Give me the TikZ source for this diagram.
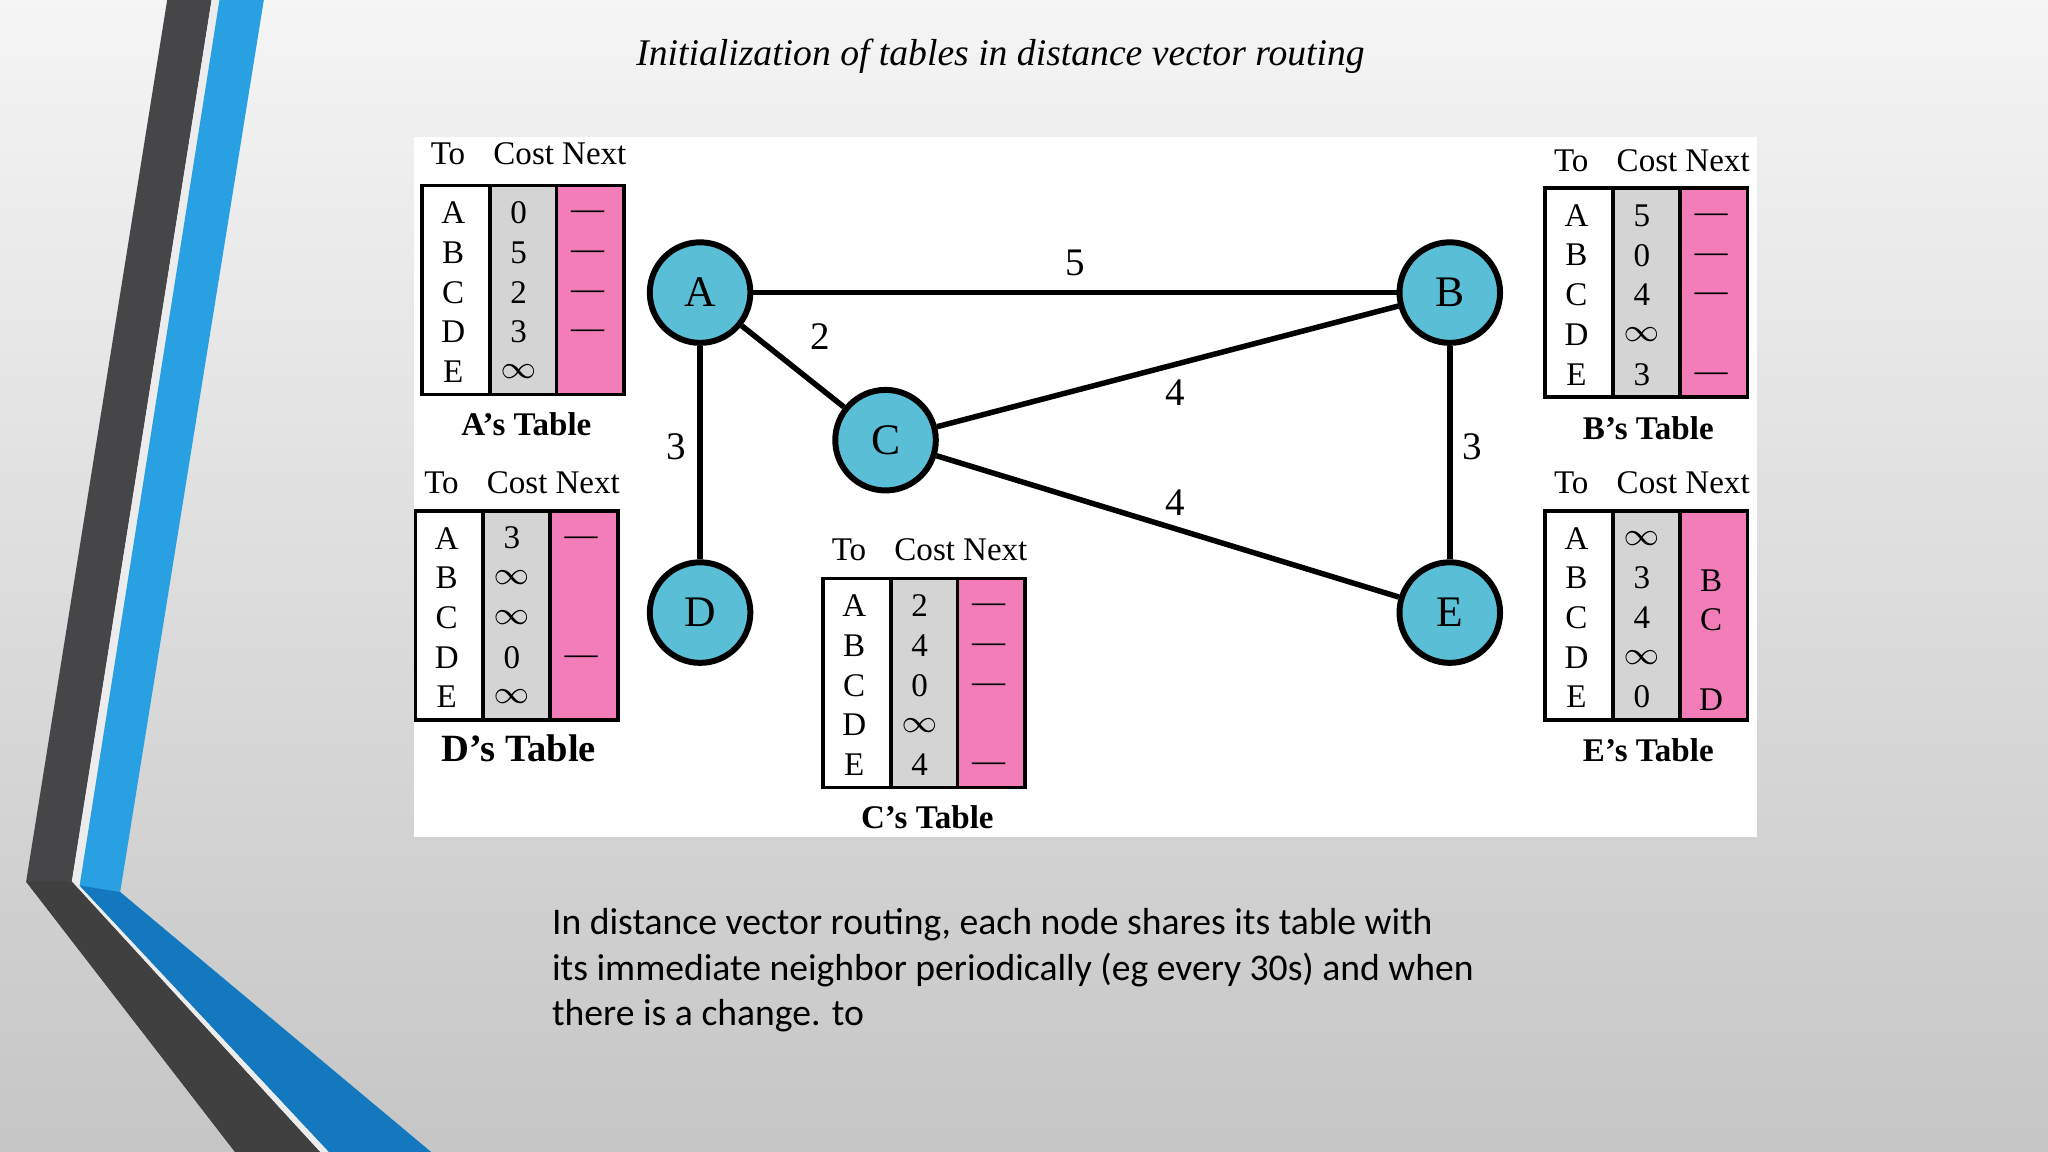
\documentclass[tikz,border=0pt]{standalone}
\usepackage{fontspec}
\setmainfont{Liberation Serif}
\newfontfamily\bodyfont{Carlito}
\usetikzlibrary{calc}
\definecolor{pinkc}{RGB}{242,125,185}
\definecolor{grayc}{RGB}{212,212,212}
\definecolor{nodec}{RGB}{90,190,215}
\definecolor{blues}{RGB}{40,160,225}
\definecolor{bluedk}{RGB}{20,120,190}
\definecolor{darks}{RGB}{70,70,72}
\tikzset{
  rnode/.style={circle,draw=black,line width=1.3pt,fill=nodec,minimum size=7.7mm,inner sep=0pt,font=\fontsize{9.5}{10}\selectfont},
  link/.style={line width=1.2pt},
  wlab/.style={font=\fontsize{8.5}{9}\selectfont},
  cell/.style={font=\fontsize{7.2}{8}\selectfont,inner sep=0pt},
  hdr/.style={font=\fontsize{7.2}{8}\selectfont,inner sep=0pt,anchor=base},
  tlab/.style={font=\bfseries\fontsize{7.2}{8}\selectfont,inner sep=0pt},
}
\newcommand\rtab[4]{% x y header-y list
\begin{scope}[shift={(#1,#2)}]
\fill[grayc] (52,0) rectangle (103,160);
\fill[pinkc] (103,0) rectangle (155,160);
\draw[line width=0.8pt] (0,0) rectangle (155,160) (52,0)--(52,160) (103,0)--(103,160);
\node[hdr] at (20,#3) {To};
\node[hdr] at (78,#3) {Cost};
\node[hdr] at (132,#3) {Next};
\foreach \a/\b/\c [count=\i] in {#4}{
  \node[cell] at (24,{21+(\i-1)*30.4}) {\a};
  \node[cell] at (74,{21+(\i-1)*30.4}) {\b};
  \node[cell] at (127,{23+(\i-1)*30.4}) {\c};
}
\end{scope}}
\begin{document}
\begin{tikzpicture}[x=0.1mm,y=-0.1mm]
\useasboundingbox (0,0) rectangle (1568,882);
\shade[top color=gray!8,bottom color=gray!45] (0,0) rectangle (1568,882);
% stripes
\fill[darks] (128,0)--(162,0)--(55,675)--(245,882)--(180,882)--(20,675)--cycle;
\fill[white!85!gray] (162,0)--(168,0)--(61,678)--(252,882)--(245,882)--(55,675)--cycle;
\fill[blues] (168,0)--(202,0)--(92,683)--(330,882)--(252,882)--(61,678)--cycle;
\fill[bluedk] (61,678)--(92,683)--(330,882)--(252,882)--cycle;
\fill[black!75] (20,675)--(55,675)--(245,882)--(180,882)--cycle;
\node[font=\itshape\fontsize{8.2}{9}\selectfont] (title) at (766,43) {Initialization of tables in distance vector routing};
\fill[white] (317,105) rectangle (1345,641);
% graph
\node[rnode] (A) at (536,224) {A};
\node[rnode] (B) at (1110,224) {B};
\node[rnode] (C) at (678,337) {C};
\node[rnode] (D) at (536,469) {D};
\node[rnode] (E) at (1110,469) {E};
\draw[link] (A)--(B); \draw[link] (A)--(C); \draw[link] (A)--(D);
\draw[link] (C)--(B); \draw[link] (C)--(E); \draw[link] (B)--(E);
\node[wlab] at (823,201) {5};
\node[wlab] at (628,258) {2};
\node[wlab] at (900,301) {4};
\node[wlab] at (518,342) {3};
\node[wlab] at (1127,342) {3};
\node[wlab] at (900,385) {4};
% tables
\rtab{323}{142}{-16}{A/0/---,B/5/---,C/2/---,D/3/---,E/$\infty$/{}}
\node[tlab] at (403,325) {A's Table};
\rtab{1183}{144}{-13}{A/5/---,B/0/---,C/4/---,D/$\infty$/{},E/3/---}
\node[tlab] at (1262,328) {B's Table};
\rtab{318}{391}{-13}{A/3/---,B/$\infty$/{},C/$\infty$/{},D/0/---,E/$\infty$/{}}
\node[tlab,font=\bfseries\fontsize{8.4}{9}\selectfont] at (397,573) {D's Table};
\rtab{630}{443}{-14}{A/2/---,B/4/---,C/0/---,D/$\infty$/{},E/4/---}
\node[tlab] at (710,626) {C's Table};
\rtab{1183}{391}{-13}{A/$\infty$/{},B/3/B,C/4/C,D/$\infty$/{},E/0/D}
\node[tlab] at (1262,574) {E's Table};
\node[anchor=north west,align=left,inner sep=0pt,font=\bodyfont\fontsize{8.2}{9.9}\selectfont] (body) at (422,695)
{In distance vector routing, each node shares its table with\\its immediate neighbor periodically (eg every 30s) and when\\there is a change. to};
\end{tikzpicture}
\end{document}
